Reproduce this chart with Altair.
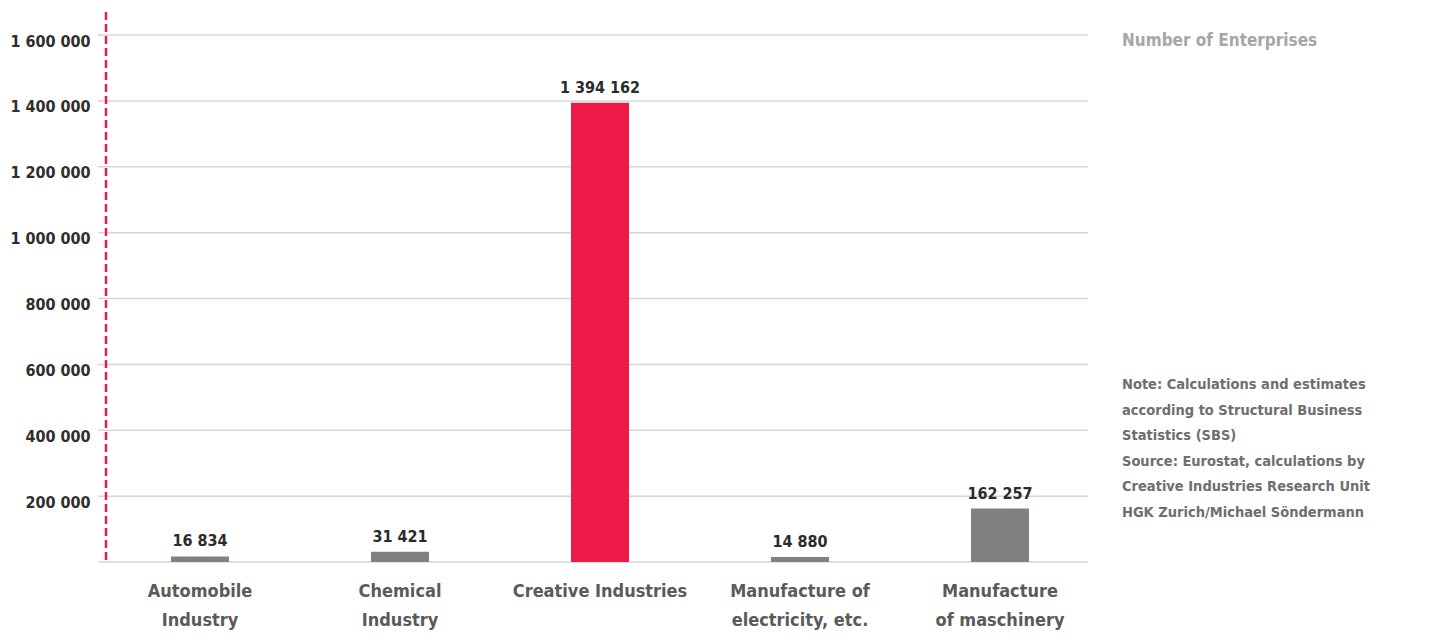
import altair as alt
import pandas as pd

categories = ["Automobile\nIndustry", "Chemical\nIndustry", "Creative Industries",
              "Manufacture of\nelectricity, etc.", "Manufacture\nof maschinery"]
values = [16834, 31421, 1394162, 14880, 162257]
value_labels = ["16 834", "31 421", "1 394 162", "14 880", "162 257"]
highlight = [False, False, True, False, False]
tick_values = [0, 200000, 400000, 600000, 800000, 1000000, 1200000, 1400000, 1600000]
note_lines = ["Note: Calculations and estimates", "according to Structural Business",
              "Statistics (SBS)", "Source: Eurostat, calculations by",
              "Creative Industries Research Unit", "HGK Zurich/Michael Söndermann"]
legend_title = "Number of Enterprises"

FONT = "DejaVu Sans Condensed, sans-serif"
RED = "#EE1A47"
GRAY = "#808080"

df = pd.DataFrame({"cat": categories, "value": values, "label": value_labels, "hl": highlight})
grid_df = pd.DataFrame({"v": tick_values})
text_df = pd.DataFrame({"note": ["\n".join(note_lines)], "title": [legend_title]})

x_enc = alt.X("cat:N", sort=categories, title=None,
              scale=alt.Scale(paddingInner=0.0, paddingOuter=0.0),
              axis=alt.Axis(labelExpr="split(datum.label, '\\n')", labelAngle=0, labelLimit=400,
                            labelFont=FONT, labelFontSize=18, labelFontWeight="bold",
                            labelColor="#5a5a5a", labelLineHeight=29, labelBaseline="top",
                            labelPadding=20, ticks=False, domain=False, grid=False))
y_scale = alt.Scale(domain=[0, 1600000], nice=False)

grid = alt.Chart(grid_df).mark_rule(color="#d6d6d6", strokeWidth=1.5).encode(
    y=alt.Y("v:Q", scale=y_scale, title=None,
            axis=alt.Axis(values=tick_values[1:], labelExpr="replace(format(datum.value, ','), /,/g, ' ')",
                          labelFont=FONT, labelFontSize=16, labelFontWeight="bold",
                          labelColor="#2e2e2e", labelPadding=10, labelOffset=6,
                          ticks=False, domain=False, grid=False)),
    x=alt.value(-2), x2=alt.value(988))

bars = alt.Chart(df).mark_bar(size=58).encode(
    x=x_enc,
    y=alt.Y("value:Q", scale=y_scale),
    color=alt.condition("datum.hl", alt.value(RED), alt.value(GRAY)))

labels = alt.Chart(df).mark_text(font=FONT, fontSize=16, fontWeight="bold", color="#2b2b2b",
                                 baseline="alphabetic", dy=-10).encode(
    x=alt.X("cat:N", sort=categories), y=alt.Y("value:Q", scale=y_scale), text="label:N")

dash = alt.Chart(df.head(1)).mark_rule(color=RED, strokeWidth=2.5, strokeDash=[8, 4]).encode(
    x=alt.value(6), y=alt.value(-23), y2=alt.value(527))

title_txt = alt.Chart(text_df).mark_text(
    font=FONT, fontSize=17, fontWeight="bold", color="#a6a6a6", align="left", baseline="middle").encode(
    x=alt.value(1022), y=alt.value(6), text="title:N")

notes = alt.Chart(text_df).mark_text(
    font=FONT, fontSize=14.5, fontWeight="bold", color="#6e6e6e", align="left", baseline="middle",
    lineBreak="\n", lineHeight=25.6).encode(
    x=alt.value(1022), y=alt.value(350), text="note:N")

chart = alt.layer(grid, bars, labels, dash, title_txt, notes).properties(
    width=1000, height=527,
    autosize=alt.AutoSizeParams(type="none"),
    padding={"left": 92, "top": 27, "right": 326, "bottom": 72}
).configure(background="white", view=alt.ViewConfig(stroke=None))

chart.save("out.html", embed_options={"renderer": "svg", "actions": False})
